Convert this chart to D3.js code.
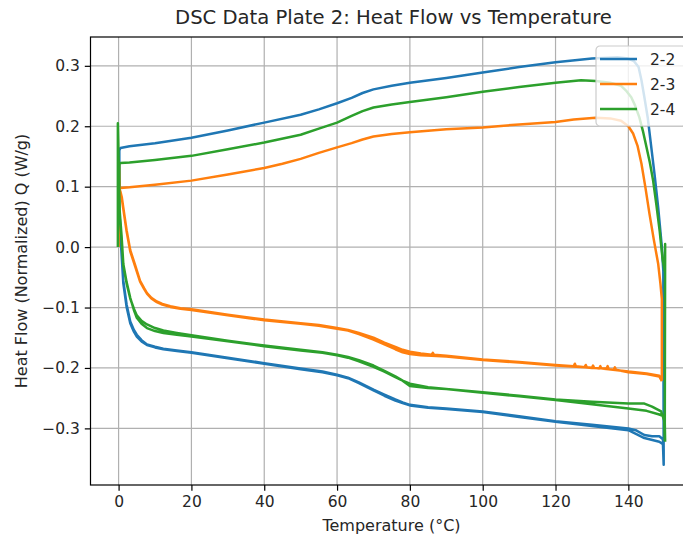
<!DOCTYPE html>
<html>
<head>
<meta charset="utf-8">
<title>DSC Data Plate 2</title>
<script src="https://cdnjs.cloudflare.com/ajax/libs/d3/7.8.5/d3.min.js"></script>
<style>
  body { margin: 0; background: #fff; }
  svg { display: block; font-family: "DejaVu Sans", sans-serif; }
</style>
</head>
<body>
<svg id="chart" width="683" height="539"></svg>
<script>
// series names / colours
var seriesNames = ["2-2", "2-3", "2-4"];
var seriesColors = ["#1f77b4", "#ff7f0e", "#2ca02c"];
var xTicks = [0, 20, 40, 60, 80, 100, 120, 140];
var yTicks = [-0.3, -0.2, -0.1, 0.0, 0.1, 0.2, 0.3];

// [temperature C, heat flow W/g]
// ---- 2-2 ----
var start22 = [[-0.1, 0.0], [0.0, 0.07]];
var heatA22 = [[0.3,0.05],[0.7,0.01],[1.3,-0.056],[2.2,-0.095],[3.2,-0.123],[4.2,-0.137],[5.0,-0.145],[6.3,-0.154],[7.8,-0.161],[10,-0.165],[12.3,-0.168],[16,-0.171],[20,-0.174],[30,-0.183],[40,-0.192],[50,-0.201],[56,-0.206],[60,-0.211],[63,-0.216],[66,-0.224],[70,-0.236],[73,-0.244],[76,-0.252],[78,-0.257],[80,-0.261],[85,-0.265],[90,-0.267],[100,-0.272],[110,-0.280],[120,-0.288],[130,-0.294],[140,-0.300],[142,-0.303],[144.4,-0.311],[146.5,-0.313],[148.5,-0.313],[149.5,-0.318],[149.7,-0.355]];
var cool22 = [[149.6,-0.04],[149.2,0.0],[148.2,0.065],[147.2,0.12],[146.3,0.165],[145.3,0.215],[144.4,0.248],[143.6,0.276],[142.8,0.298],[141.5,0.308],[140,0.312],[137,0.314],[130,0.312],[120,0.306],[110,0.298],[100,0.289],[90,0.280],[80,0.272],[75,0.267],[70,0.261],[67,0.255],[64,0.247],[60,0.238],[55,0.228],[50,0.219],[40,0.206],[30,0.193],[20,0.181],[10,0.172],[3,0.167],[0.5,0.164],[0.2,0.16]];
var heatB22 = [[0.2,0.06],[0.7,0.0],[1.3,-0.06],[2.2,-0.099],[3.2,-0.126],[4.2,-0.14],[5,-0.148],[6.3,-0.156],[7.8,-0.162],[10,-0.166],[12.3,-0.169],[16,-0.172],[20,-0.175],[30,-0.184],[40,-0.193],[50,-0.202],[56,-0.207],[60,-0.212],[63,-0.217],[66,-0.225],[70,-0.237],[73,-0.246],[76,-0.254],[78,-0.258],[80,-0.262],[85,-0.266],[90,-0.268],[100,-0.273],[110,-0.281],[120,-0.289],[130,-0.296],[140,-0.303],[144.4,-0.316],[148.5,-0.322],[149.5,-0.326],[149.7,-0.36],[149.7,-0.335]];

// ---- 2-3 ----
var start23 = [[0.0, 0.0], [0.1, 0.14], [0.3, 0.095]];
var heatA23 = [[0.5,0.092],[0.9,0.082],[1.3,0.065],[2.2,0.028],[3.2,-0.005],[4.5,-0.029],[5.9,-0.056],[7.0,-0.068],[7.8,-0.076],[9,-0.084],[10.5,-0.090],[12,-0.094],[14.2,-0.098],[17,-0.101],[20,-0.103],[30,-0.112],[40,-0.120],[50,-0.126],[55,-0.129],[60,-0.134],[63,-0.137],[66,-0.142],[70,-0.150],[73,-0.158],[76,-0.165],[78,-0.170],[80,-0.173],[83,-0.176],[86,-0.178],[86.3,-0.175],[86.6,-0.178],[90,-0.180],[100,-0.186],[110,-0.190],[120,-0.195],[125,-0.197],[125.3,-0.193],[125.6,-0.197],[130,-0.200],[130.3,-0.196],[130.6,-0.200],[134,-0.201],[134.3,-0.197],[134.6,-0.202],[140,-0.206],[145,-0.209],[148.5,-0.213],[149.2,-0.22]];
var cool23 = [[149.2,-0.086],[148.8,-0.06],[148.2,-0.028],[147,0.012],[145.8,0.055],[144.7,0.098],[143.6,0.138],[142.5,0.168],[141.3,0.188],[140,0.200],[138,0.209],[135,0.213],[131,0.214],[125,0.211],[120,0.207],[110,0.203],[100,0.198],[90,0.195],[80,0.190],[75,0.187],[70,0.183],[67,0.178],[64,0.172],[60,0.165],[55,0.156],[50,0.146],[45,0.138],[40,0.131],[30,0.120],[20,0.110],[10,0.103],[3,0.099],[0.5,0.098],[0.3,0.097]];
var heatB23 = [[0.4,0.09],[0.9,0.08],[1.3,0.063],[2.2,0.026],[3.2,-0.007],[4.5,-0.031],[5.9,-0.057],[7.0,-0.069],[7.8,-0.077],[9,-0.085],[10.5,-0.091],[12,-0.095],[14.2,-0.099],[17,-0.102],[20,-0.104],[30,-0.113],[40,-0.121],[50,-0.127],[55,-0.130],[60,-0.135],[63,-0.138],[66,-0.144],[70,-0.153],[73,-0.161],[76,-0.169],[78,-0.174],[80,-0.177],[83,-0.179],[86,-0.180],[90,-0.181],[100,-0.187],[110,-0.191],[120,-0.196],[128,-0.199],[128.3,-0.195],[128.6,-0.199],[132,-0.201],[132.3,-0.197],[132.6,-0.201],[136,-0.203],[136.3,-0.199],[136.6,-0.203],[140,-0.207],[145,-0.210],[148.5,-0.214],[149.2,-0.222]];

// ---- 2-4 ----
var start24 = [[-0.2, 0.0], [-0.2, 0.205], [0.0, 0.15]];
var heatA24 = [[0.3,0.06],[0.8,0.02],[1.3,-0.028],[2.2,-0.058],[3.2,-0.084],[4.2,-0.104],[5,-0.117],[6.3,-0.127],[7.8,-0.134],[10,-0.139],[12.3,-0.142],[16,-0.145],[20,-0.148],[30,-0.156],[40,-0.164],[50,-0.171],[56,-0.175],[60,-0.179],[63,-0.183],[66,-0.189],[70,-0.198],[73,-0.206],[76,-0.215],[78,-0.221],[80,-0.226],[85,-0.232],[90,-0.235],[100,-0.241],[110,-0.247],[120,-0.253],[130,-0.260],[140,-0.267],[145,-0.271],[148.5,-0.277],[149.8,-0.28],[150.0,-0.32]];
var cool24 = [[150.1,0.005],[150.0,-0.04],[149.4,-0.02],[148.6,0.027],[147.7,0.07],[146.8,0.110],[145.9,0.14],[145,0.165],[144,0.192],[143,0.215],[141.8,0.235],[140.8,0.248],[139.5,0.258],[138,0.267],[135,0.272],[131,0.275],[127,0.276],[120,0.272],[110,0.265],[100,0.257],[90,0.248],[80,0.240],[75,0.236],[70,0.231],[67,0.225],[64,0.217],[60,0.206],[55,0.196],[50,0.186],[40,0.173],[30,0.162],[20,0.151],[10,0.144],[3,0.140],[0.5,0.139],[0.2,0.138]];
var heatB24 = [[0.2,0.06],[0.8,0.015],[1.3,-0.03],[2.2,-0.06],[3.2,-0.085],[4.2,-0.102],[5,-0.113],[6.3,-0.122],[7.8,-0.128],[10,-0.134],[12.3,-0.138],[16,-0.142],[20,-0.146],[30,-0.155],[40,-0.163],[50,-0.170],[56,-0.174],[60,-0.178],[63,-0.182],[66,-0.187],[70,-0.196],[73,-0.205],[76,-0.214],[78,-0.221],[80,-0.230],[85,-0.233],[90,-0.235],[100,-0.240],[110,-0.246],[120,-0.252],[130,-0.256],[140,-0.259],[144.4,-0.259],[146.5,-0.264],[149,-0.272],[150,-0.29],[150.1,-0.322]];

// each run: start, heat, cool, heat again
var runs = [
  start22.concat(heatA22, cool22, heatB22),
  start23.concat(heatA23, cool23, heatB23),
  start24.concat(heatA24, cool24, heatB24)
];

var margin = {left: 90.5, top: 37},
    plotW = 602, plotH = 448;

var svg = d3.select("#chart");

// matplotlib style 5% padding on the data range
var allPts = d3.merge(runs);
var xExt = d3.extent(allPts, function(d) { return d[0]; });
var yExt = d3.extent(allPts, function(d) { return d[1]; });
var xPad = (xExt[1] - xExt[0]) * 0.05, yPad = (yExt[1] - yExt[0]) * 0.05;

var x = d3.scaleLinear().domain([xExt[0] - xPad, xExt[1] + xPad]).range([0, plotW]);
var y = d3.scaleLinear().domain([yExt[0] - yPad, yExt[1] + yPad]).range([plotH, 0]);

var g = svg.append("g").attr("transform", "translate(" + margin.left + "," + margin.top + ")");

svg.append("defs").append("clipPath").attr("id", "clip")
  .append("rect").attr("width", plotW).attr("height", plotH)
  .attr("x", margin.left).attr("y", margin.top);

/* grid */
g.selectAll(".gx").data(xTicks).enter().append("line")
  .attr("x1", function(d) { return x(d); }).attr("x2", function(d) { return x(d); })
  .attr("y1", 0).attr("y2", plotH)
  .style("stroke", "#b0b0b0").style("stroke-width", 1.2);
g.selectAll(".gy").data(yTicks).enter().append("line")
  .attr("y1", function(d) { return y(d); }).attr("y2", function(d) { return y(d); })
  .attr("x1", 0).attr("x2", plotW)
  .style("stroke", "#b0b0b0").style("stroke-width", 1.2);

/* curves */
var line = d3.line().x(function(d) { return x(d[0]); }).y(function(d) { return y(d[1]); });
var lines = svg.append("g").attr("clip-path", "url(#clip)")
  .append("g").attr("transform", "translate(" + margin.left + "," + margin.top + ")");
lines.selectAll("path").data(runs).enter().append("path")
  .attr("d", line)
  .style("fill", "none")
  .style("stroke", function(d, i) { return seriesColors[i]; })
  .style("stroke-width", 2.5)
  .style("stroke-linejoin", "round");

/* axes */
var xAxis = d3.axisBottom(x).tickValues(xTicks).tickSize(5.7).tickPadding(5).tickFormat(d3.format("d"));
var yAxis = d3.axisLeft(y).tickValues(yTicks).tickSize(5.7).tickPadding(5).tickFormat(d3.format(".1f"));

var gx = g.append("g").attr("transform", "translate(0," + plotH + ")").call(xAxis);
var gy = g.append("g").call(yAxis);
[gx, gy].forEach(function(a) {
  a.select(".domain").remove();
  a.selectAll(".tick line").style("stroke", "#000").style("stroke-width", 1.2);
  a.selectAll(".tick text").style("font-size", "15.5px").style("fill", "#262626")
    .style("font-family", "DejaVu Sans");
});

/* spines */
g.append("rect").attr("width", plotW).attr("height", plotH)
  .style("fill", "none").style("stroke", "#000").style("stroke-width", 1.2);

/* text */
svg.append("text").attr("x", margin.left + plotW / 2 + 2).attr("y", 24)
  .attr("text-anchor", "middle").style("font-size", "19.6px").style("fill", "#262626")
  .text("DSC Data Plate 2: Heat Flow vs Temperature");
svg.append("text").attr("x", margin.left + plotW / 2).attr("y", 531)
  .attr("text-anchor", "middle").style("font-size", "16px").style("fill", "#262626")
  .text("Temperature (°C)");
svg.append("text").attr("transform", "translate(27," + (margin.top + plotH / 2) + ") rotate(-90)")
  .attr("text-anchor", "middle").style("font-size", "16px").style("fill", "#262626")
  .text("Heat Flow (Normalized) Q (W/g)");

/* legend */
var leg = svg.append("g").attr("transform", "translate(596,46)");
leg.append("rect").attr("width", 90).attr("height", 80).attr("rx", 4)
  .style("fill", "#fff").style("fill-opacity", 0.8)
  .style("stroke", "#cccccc").style("stroke-width", 1.2);
var items = leg.selectAll(".item").data(seriesNames).enter().append("g")
  .attr("transform", function(d, i) { return "translate(0," + (13 + i * 25) + ")"; });
items.append("line").attr("x1", 4).attr("x2", 41)
  .style("stroke", function(d, i) { return seriesColors[i]; }).style("stroke-width", 2.5);
items.append("text").attr("x", 54).attr("y", 5.5)
  .style("font-size", "15.5px").style("fill", "#262626")
  .text(function(d) { return d; });
</script>
</body>
</html>
